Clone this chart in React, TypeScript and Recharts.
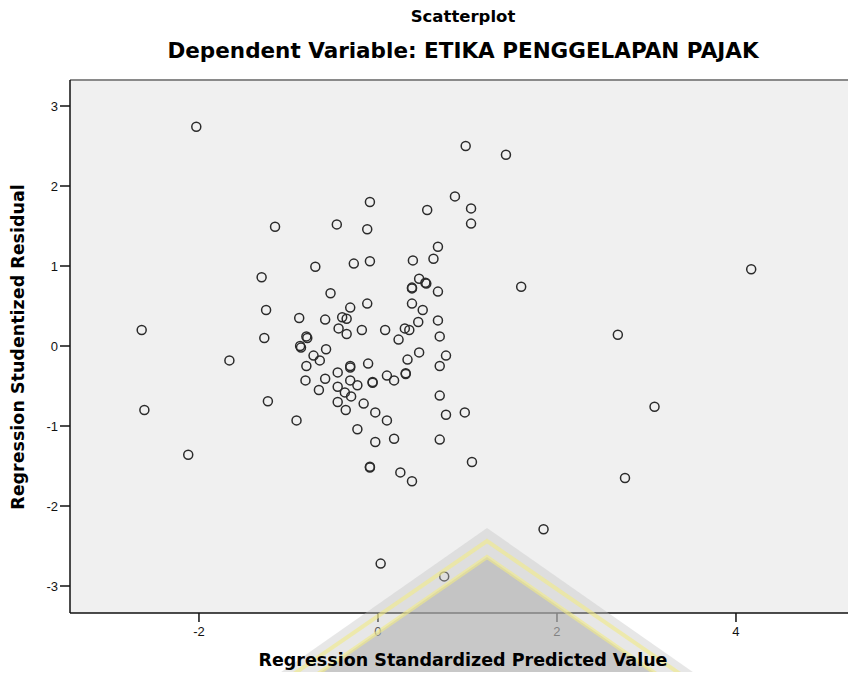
import React from "react";
import {
  ScatterChart,
  Scatter,
  XAxis,
  YAxis,
  ReferenceArea,
  ReferenceLine,
} from "recharts";

// Regression Standardized Predicted Value (x) vs Studentized Residual (y)
const predicted = [
  -2.03, -1.15, -0.46, -0.7, -1.3, -0.53, -1.25, -0.88, -0.59, -0.4,
  -0.35, -2.64, -0.8, -0.79, -1.27, -0.44, -0.87, -0.86, -0.58, -1.66,
  -0.72, -0.65, -0.8, -0.45, -0.81, -0.59, -0.45, -0.66, -0.45, -1.23,
  -2.61, -0.91, -2.12, 0.98, 1.43, -0.09, 0.86, 0.55, 1.04, 1.04,
  -0.12, 0.67, 0.62, 0.39, -0.09, -0.27, 1.6, 0.46, 0.53, 0.54,
  0.38, 0.38, 0.67, -0.12, 0.38, 0.5, -0.31, 0.67, 0.45, -0.35,
  -0.18, 0.08, 0.3, 0.35, 0.23, 0.69, 0.46, 0.76, 0.33, -0.11,
  0.69, -0.31, -0.31, 0.31, 0.31, 0.1, 0.18, -0.06, -0.06, -0.31,
  -0.23, -0.37, -0.3, -0.16, -0.36, -0.03, 0.1, 0.69, 0.76, 0.97,
  -0.23, -0.03, 0.18, 0.69, 1.05, -0.09, -0.09, 0.25, 0.38, 1.85,
  0.03, 0.74, 4.17, 2.68, 3.09, 2.76,
];

const residual = [
  2.74, 1.49, 1.52, 0.99, 0.86, 0.66, 0.45, 0.35, 0.33, 0.36,
  0.34, 0.2, 0.12, 0.1, 0.1, 0.22, 0.0, -0.02, -0.04, -0.18,
  -0.12, -0.18, -0.25, -0.33, -0.43, -0.41, -0.51, -0.55, -0.7, -0.69,
  -0.8, -0.93, -1.36, 2.5, 2.39, 1.8, 1.87, 1.7, 1.72, 1.53,
  1.46, 1.24, 1.09, 1.07, 1.06, 1.03, 0.74, 0.84, 0.79, 0.78,
  0.72, 0.73, 0.68, 0.53, 0.53, 0.45, 0.48, 0.32, 0.3, 0.15,
  0.2, 0.2, 0.22, 0.2, 0.08, 0.12, -0.08, -0.12, -0.17, -0.22,
  -0.25, -0.25, -0.27, -0.35, -0.34, -0.37, -0.43, -0.45, -0.46, -0.43,
  -0.49, -0.58, -0.63, -0.72, -0.8, -0.83, -0.93, -0.62, -0.86, -0.83,
  -1.04, -1.2, -1.16, -1.17, -1.45, -1.52, -1.51, -1.58, -1.69, -2.29,
  -2.72, -2.88, 0.96, 0.14, -0.76, -1.65,
];

const xTicks = [-2, 0, 2, 4];
const yTicks = [-3, -2, -1, 0, 1, 2, 3];
const xDomain = [-3.441, 5.341];
const yDomain = [-3.3375, 3.325];

const points = predicted.map((x, i) => ({ x, y: residual[i] }));

const tickStyle = { fill: "#111", fontSize: 13, fontFamily: "'Liberation Sans', Arial, sans-serif" };
const titleFont = "'DejaVu Sans', sans-serif";

const OpenCircle = (props: any) => {
  const { cx, cy } = props;
  if (cx == null || cy == null) return null;
  return <circle cx={cx} cy={cy} r={4.5} fill="none" stroke="#2b2b2b" strokeWidth={1.5} />;
};

// faint logo watermark sitting over the bottom of the image
function Watermark() {
  return (
    <svg
      width={856}
      height={680}
      style={{ position: "absolute", left: 0, top: 0, pointerEvents: "none" }}
    >
      <polygon points="487,528 750,712 224,712" fill="#c4c4c4" fillOpacity={0.4} />
      <polyline
        points="256,700 487,541 718,700"
        fill="none"
        stroke="#f1eb86"
        strokeOpacity={0.6}
        strokeWidth={4}
      />
      <polygon
        points="487,557 694,700 280,700"
        fill="#a9a9a9"
        fillOpacity={0.5}
        stroke="#f1eb86"
        strokeOpacity={0.6}
        strokeWidth={4}
      />
    </svg>
  );
}

export default function App() {
  return (
    <div
      style={{
        position: "relative",
        width: 856,
        height: 680,
        margin: -8,
        overflow: "hidden",
        background: "#fff",
      }}
    >
      <div
        style={{
          position: "absolute",
          top: 7,
          left: 0,
          width: 926,
          textAlign: "center",
          font: `bold 16.5px ${titleFont}`,
          color: "#000",
        }}
      >
        Scatterplot
      </div>
      <div
        style={{
          position: "absolute",
          top: 38,
          left: 0,
          width: 926,
          textAlign: "center",
          font: `bold 21.5px ${titleFont}`,
          color: "#000",
        }}
      >
        Dependent Variable: ETIKA PENGGELAPAN PAJAK
      </div>

      <ScatterChart width={856} height={680} margin={{ top: 80, right: 0, bottom: 0, left: 0 }}>
        <ReferenceArea
          x1={xDomain[0]}
          x2={xDomain[1]}
          y1={yDomain[0]}
          y2={yDomain[1]}
          fill="#f0f0f0"
          fillOpacity={1}
          stroke="none"
        />
        <ReferenceLine y={yDomain[1]} stroke="#8a8a8a" strokeWidth={2} />
        <XAxis
          type="number"
          dataKey="x"
          domain={xDomain}
          ticks={xTicks}
          height={67}
          tick={tickStyle}
          tickSize={9}
          tickMargin={5}
          axisLine={{ stroke: "#111", strokeWidth: 1.5 }}
          tickLine={{ stroke: "#111", strokeWidth: 1.5 }}
          allowDataOverflow
        />
        <YAxis
          type="number"
          dataKey="y"
          domain={yDomain}
          ticks={yTicks}
          width={70}
          tick={tickStyle}
          tickSize={10}
          tickMargin={2}
          axisLine={{ stroke: "#111", strokeWidth: 1.5 }}
          tickLine={{ stroke: "#111", strokeWidth: 1.5 }}
          allowDataOverflow
        />
        <Scatter data={points} shape={OpenCircle} isAnimationActive={false} />
      </ScatterChart>

      <Watermark />

      <div
        style={{
          position: "absolute",
          top: 650,
          left: 70,
          width: 786,
          textAlign: "center",
          font: `bold 17.5px ${titleFont}`,
          color: "#000",
        }}
      >
        Regression Standardized Predicted Value
      </div>
      <div
        style={{
          position: "absolute",
          left: 18,
          top: 347,
          transform: "translate(-50%, -50%) rotate(-90deg)",
          whiteSpace: "nowrap",
          font: `bold 17.5px ${titleFont}`,
          color: "#000",
        }}
      >
        Regression Studentized Residual
      </div>
    </div>
  );
}
